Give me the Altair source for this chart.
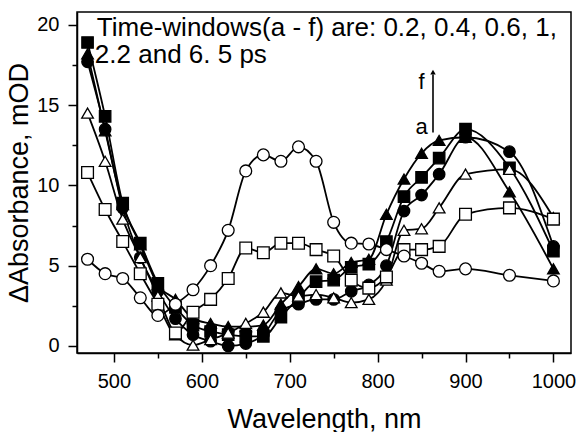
import altair as alt
import pandas as pd

wavelength = [470, 490, 510, 530, 550, 570, 590, 610, 630, 650, 670, 690,
              710, 730, 750, 770, 790, 810, 830, 850, 870, 900, 950, 1000]

filled_square = [18.9, 14.3, 8.9, 6.4, 3.9, 2.4, 1.3, 0.9, 0.7, 0.6, 0.6, 1.8,
                 3.0, 4.0, 4.1, 4.9, 5.1, 6.5, 9.3, 10.5, 11.7, 13.5, 11.1, 5.9]
filled_circle = [17.7, 13.5, 8.6, 5.5, 3.4, 1.7, 0.7, 0.3, 0.0, 0.15, 0.7, 2.2,
                 2.6, 2.9, 2.9, 3.4, 3.8, 5.0, 8.4, 9.4, 10.7, 13.0, 12.1, 6.2]
filled_triangle = [18.2, 13.4, 8.8, 6.3, 3.8, 2.9, 1.7, 1.4, 1.2, 1.2, 1.3, 2.6,
                   3.7, 4.8, 4.5, 5.2, 5.4, 8.2, 10.4, 12.0, 12.8, 13.0, 9.6, 4.8]
open_triangle = [14.5, 11.5, 7.9, 5.5, 3.1, 0.7, 0.05, 0.4, 0.8, 1.4, 2.1, 3.3,
                 3.1, 3.2, 3.0, 2.7, 2.9, 4.1, 7.2, 7.3, 8.6, 10.7, 11.0, 8.0]
open_square = [10.8, 8.5, 6.5, 4.5, 2.6, 0.8, 2.1, 2.9, 4.2, 6.1, 5.8, 6.4,
               6.4, 6.0, 5.6, 4.1, 3.6, 4.3, 6.0, 6.0, 6.2, 8.2, 8.6, 7.9]
open_circle = [5.4, 4.5, 4.2, 3.0, 1.9, 2.6, 3.5, 5.0, 7.2, 10.9, 11.9, 11.5,
               12.4, 11.5, 7.7, 6.4, 6.35, 6.0, 5.6, 5.15, 4.65, 4.8, 4.4, 4.05]

series_names = ["filled square", "filled circle", "filled triangle",
                "open triangle", "open square", "open circle"]
series_values = [filled_square, filled_circle, filled_triangle,
                 open_triangle, open_square, open_circle]
series_shapes = ["square", "circle", "triangle-up", "triangle-up", "square", "circle"]
series_fills = ["black", "black", "black", "white", "white", "white"]
series_sizes = [130, 140, 180, 180, 130, 140]

x_ticks = [500, 550, 600, 650, 700, 750, 800, 850, 900, 950, 1000]
y_ticks = [0, 2.5, 5, 7.5, 10, 12.5, 15, 17.5, 20]

note_line1 = "Time-windows(a - f) are: 0.2, 0.4, 0.6, 1,"
note_line2 = "2.2 and 6. 5 ps"

rows = []
for name, vals in zip(series_names, series_values):
    for w, v in zip(wavelength, vals):
        rows.append({"wl": w, "val": v, "series": name})
df = pd.DataFrame(rows)

FONT = "Liberation Sans"

x_scale = alt.Scale(domain=[458, 1020], nice=False, zero=False)
y_scale = alt.Scale(domain=[-0.44, 20.8], nice=False, zero=False)

x_enc = alt.X("wl:Q", scale=x_scale, axis=alt.Axis(
    values=x_ticks, format="d",
    labelExpr="datum.value % 100 === 0 ? datum.label : ''",
    tickSize=alt.condition("datum.value % 100 === 0", alt.value(9), alt.value(5)),
    title="Wavelength, nm", titleFontSize=27, titleFont=FONT, titleFontWeight="normal",
    titleY=74, titleBaseline="alphabetic",
    labelFontSize=20, labelFont=FONT, labelBaseline="alphabetic", labelPadding=25,
    labelFlush=False, labelOverlap=False, grid=False,
    domainColor="black", domainWidth=1.5, tickColor="black", tickWidth=1.5,
    labelColor="black", titleColor="black"))
y_enc = alt.Y("val:Q", scale=y_scale, axis=alt.Axis(
    values=y_ticks, format="d",
    labelExpr="datum.value % 5 === 0 ? datum.label : ''",
    tickSize=alt.condition("datum.value % 5 === 0", alt.value(9), alt.value(5)),
    title="\u0394Absorbance, mOD", titleFontSize=27, titleFont=FONT, titleFontWeight="normal",
    titleX=-50, titleBaseline="alphabetic",
    labelFontSize=20, labelFont=FONT, labelPadding=9,
    labelFlush=False, labelOverlap=False, grid=False,
    domainColor="black", domainWidth=1.5, tickColor="black", tickWidth=1.5,
    labelColor="black", titleColor="black"))

lines = alt.Chart(df).mark_line(color="black", strokeWidth=1.8, interpolate="monotone").encode(
    x=x_enc, y=y_enc, detail="series:N")

points = alt.Chart(df).mark_point(filled=True, stroke="black", strokeWidth=1.3, opacity=1).encode(
    x=alt.X("wl:Q", scale=x_scale),
    y=alt.Y("val:Q", scale=y_scale),
    shape=alt.Shape("series:N", scale=alt.Scale(domain=series_names, range=series_shapes), legend=None),
    fill=alt.Fill("series:N", scale=alt.Scale(domain=series_names, range=series_fills), legend=None),
    size=alt.Size("series:N", scale=alt.Scale(domain=series_names, range=series_sizes), legend=None))

base = alt.Chart(pd.DataFrame({"k": [0]}))

t1 = base.mark_text(align="left", baseline="alphabetic", fontSize=26, font=FONT, color="black").encode(
    x=alt.datum(480.6, scale=x_scale), y=alt.datum(19.31, scale=y_scale), text=alt.value(note_line1))
t2 = base.mark_text(align="left", baseline="alphabetic", fontSize=26, font=FONT, color="black").encode(
    x=alt.datum(478.3), y=alt.datum(17.63), text=alt.value(note_line2))

arrow_shaft = base.mark_rule(color="black", strokeWidth=1.6).encode(
    x=alt.datum(863), y=alt.datum(13.3), y2=alt.datum(16.9))
arrow_head = base.mark_point(shape="triangle-up", filled=True, color="black", size=30, opacity=1).encode(
    x=alt.datum(863), y=alt.datum(17.05))
label_f = base.mark_text(align="center", baseline="alphabetic", fontSize=22, font=FONT, color="black").encode(
    x=alt.datum(850), y=alt.datum(16.0), text=alt.value("f"))
label_a = base.mark_text(align="center", baseline="alphabetic", fontSize=22, font=FONT, color="black").encode(
    x=alt.datum(850), y=alt.datum(13.2), text=alt.value("a"))

chart = alt.layer(lines, points, t1, t2, arrow_shaft, arrow_head, label_f, label_a).properties(
    width=494, height=341,
    autosize=alt.AutoSizeParams(type="none"),
    padding={"left": 77, "top": 12, "right": 8, "bottom": 79},
    background="white",
).configure_view(stroke="black", strokeWidth=1.5)

chart.save("out.html", embed_options={"renderer": "svg", "actions": False})
